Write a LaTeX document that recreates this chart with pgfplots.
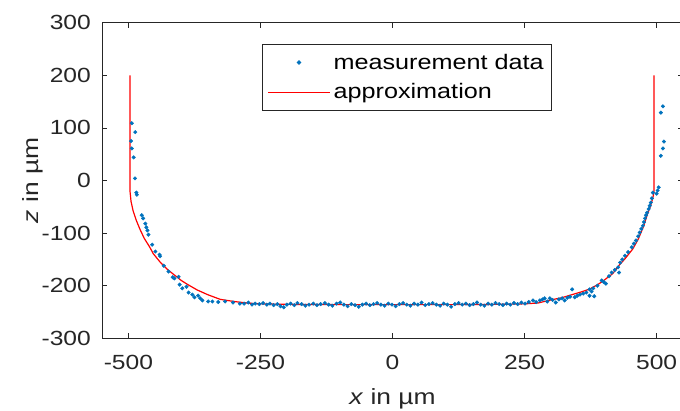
\documentclass[border=0pt]{standalone}
\usepackage{fontspec}
\setmainfont{Liberation Sans}[FakeStretch=1.2]
\usepackage{pgfplots}
\pgfplotsset{compat=1.18}
\definecolor{mblue}{RGB}{0,114,189}
\definecolor{maxis}{RGB}{38,38,38}
\pgfplotsset{
  dotlegend/.style={legend image code/.code={\draw[mark repeat=2, mark phase=2, ##1] plot coordinates {(0pt,0pt) (31pt,0pt) (62pt,0pt)};}},
  linelegend/.style={legend image code/.code={\draw[##1] (0pt,0pt) -- (62pt,0pt);}},
}
\begin{document}
\begin{tikzpicture}
\useasboundingbox (0,0) rectangle (680pt,410pt);
\begin{axis}[
  at={(102pt,71.7pt)}, anchor=south west,
  scale only axis, width=581pt, height=315.6pt,
  xmin=-550, xmax=550, ymin=-300, ymax=300,
  xtick={-500,-250,0,250,500},
  ytick={-300,-200,-100,0,100,200,300},
  tick align=inside,
  major tick length=5pt,
  axis line style={maxis, line width=0.8pt},
  every tick/.style={maxis, line width=0.8pt},
  /pgf/number format/assume math mode=true,
  /pgf/number format/.cd, 1000 sep={}, /pgfplots/.cd,
  ticklabel style={font=\fontsize{20.5}{24}\selectfont, text=maxis},
  yticklabel style={inner sep=0pt, anchor=east, xshift=-11pt},
  xticklabel style={inner sep=0pt, anchor=north, yshift=-17pt},
  xlabel={\textit{x} in µm},
  ylabel={\textit{z} in µm},
  label style={font=\fontsize{22}{26}\selectfont, text=maxis},
  xlabel style={at={(axis description cs:0.5,0)}, anchor=north, inner sep=0pt, yshift=-50pt},
  ylabel style={at={(axis description cs:0,0.5)}, anchor=south, inner sep=0pt, yshift=59pt},
  legend cell align=left,
  legend style={at={(axis description cs:0.2754,0.932)}, anchor=north west,
    draw=maxis, line width=0.8pt, fill=white,
    font=\fontsize{21}{24}\selectfont, text=black,
    inner xsep=5pt, inner ysep=6.5pt,
    nodes={inner xsep=3pt, inner ysep=3pt},
    row sep=7pt},
]
\addplot[mblue, only marks, mark=*, mark size=1.8pt, mark options={draw=none, fill=mblue}, dotlegend]
coordinates {
(-493.6,109) (-487,92) (-495,75) (-493.6,61) (-490,44) (-487.5,4) (-485,-23) (-484,-27)
(-474.7,-66) (-472,-72) (-468,-82) (-466,-89) (-464,-95) (-462,-103) (-455,-122) (-449,-135)
(-441,-141) (-440,-144) (-433,-162) (-424,-173) (-416,-184) (-413,-186) (-405,-183) (-403,-198)
(-398,-205) (-390,-202) (-386,-213) (-379,-217) (-375,-222) (-368,-219) (-364,-224) (-360,-228)
(-349,-230) (-341,-230) (-330,-231) (-317,-230) (-302,-232) (-289,-234) (-281,-234) (-273,-232)
(-266,-236) (-260,-234)
(-252,-235) (-245,-233) (-238,-236) (-232,-234) (-225,-237) (-218,-235) (-212,-239) (-206,-241)
(-200,-236) (-193,-234) (-186,-237) (-180,-233) (-172,-235) (-165,-238) (-158,-236) (-150,-234)
(-143,-237) (-136,-235) (-128,-233) (-121,-236) (-114,-238) (-106,-234) (-99,-232) (-92,-236)
(-85,-239) (-78,-235) (-71,-237) (-64,-240) (-57,-236) (-50,-234) (-43,-237) (-36,-235)
(-29,-233) (-22,-236) (-15,-238) (-8,-234) (-1,-236) (6,-239) (13,-235) (20,-233)
(27,-236) (34,-238) (41,-234) (48,-236) (55,-232) (62,-237) (69,-235) (76,-233)
(83,-236) (90,-238) (97,-234) (104,-236) (111,-240) (118,-235) (125,-233) (132,-236)
(139,-234) (146,-237) (153,-235) (160,-232) (167,-236) (174,-238) (181,-234) (188,-236)
(195,-233) (202,-235) (209,-237) (216,-234) (223,-236) (230,-233) (237,-235) (244,-232)
(251,-234) (258,-231)
(266,-228) (272,-231) (279,-228) (284,-226) (288,-224) (293,-230) (298,-224) (303,-227)
(309,-232) (315,-226) (321,-224) (326,-228) (331,-223) (336,-221) (340,-207) (345,-222)
(350,-219) (355,-217) (361,-215) (367,-213) (373,-207) (377,-211) (380,-205) (382,-220)
(373,-219) (388,-200) (396,-190) (400,-193) (404,-196) (410,-182) (415,-175) (421,-170)
(427,-165) (429,-175) (431,-156) (435,-150) (440,-143) (446,-136) (453,-127) (457,-120)
(461,-114) (465,-106) (468,-99) (471,-92) (474,-86) (476,-79) (478,-72) (480,-66)
(482,-61) (485,-54) (487,-48) (489,-42) (491,-34) (493,-23) (500,-25) (502,-19)
(504,-13) (508,47) (512,61) (514,74) (508,129) (512,141)
};
\addlegendentry{measurement data}
\addplot[red, line width=1.2pt, mark=none, linelegend]
coordinates {
(-497,200) (-497,-20) (-495,-40) (-491,-58) (-485,-76) (-478,-93) (-470,-110) (-460,-126)
(-453,-139) (-440,-155) (-425,-170) (-410,-182) (-400,-190) (-389,-197) (-370,-208) (-350,-217)
(-326,-226) (-300,-230) (-275,-233) (-250,-234.5) (-200,-235.5) (-100,-236) (0,-236) (100,-236)
(200,-235.5) (250,-234.5) (275,-233) (300,-227) (320,-223) (340,-217) (360,-211) (374,-206)
(390,-197) (400,-190) (417,-177) (430,-160) (440,-149) (455,-130) (465,-112) (475,-88)
(483,-63) (488,-50) (491,-40) (494,-28) (495,-20) (495,200)
};
\addlegendentry{approximation}
\end{axis}
\end{tikzpicture}
\end{document}
